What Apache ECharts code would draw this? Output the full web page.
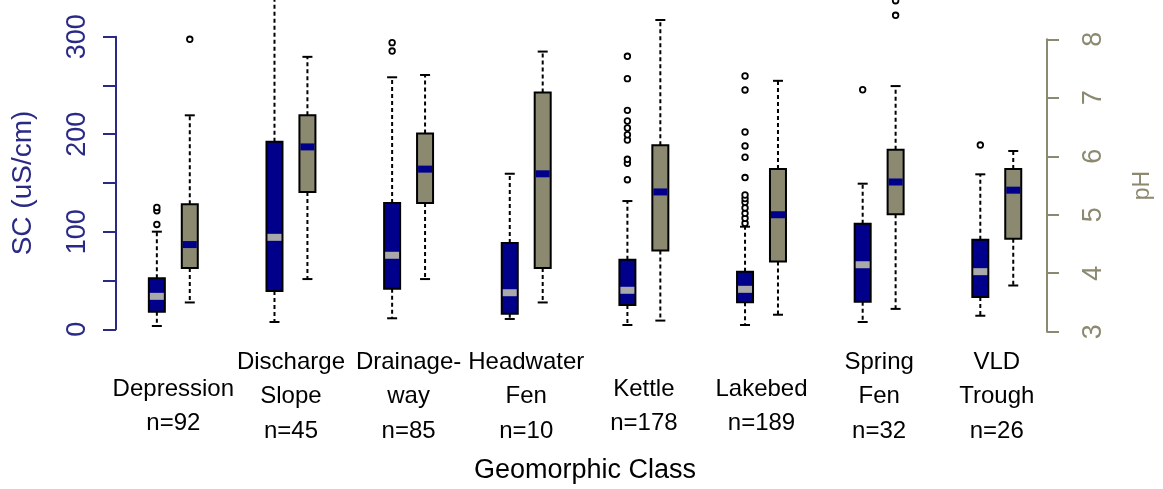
<!DOCTYPE html>
<html>
<head>
<meta charset="utf-8">
<script src="https://cdn.jsdelivr.net/npm/echarts@6/dist/echarts.min.js"></script>
<style>
html,body{margin:0;padding:0;background:#fff;}
#chart{width:1163px;height:489px;}
</style>
</head>
<body>
<div id="chart"></div>
<script>
// ---- data ----
const classNames = ['Depression', 'Discharge\nSlope', 'Drainage-\nway', 'Headwater\nFen', 'Kettle', 'Lakebed', 'Spring\nFen', 'VLD\nTrough'];
const sampleCounts = [92, 45, 85, 10, 178, 189, 32, 26];
// [min whisker, Q1, median, Q3, max whisker]
const scStats = [
  [3.4, 18.0, 33.8, 52.3, 100.1],
  [7.5, 39.3, 94.3, 192.4, 380],
  [11.3, 41.6, 75.9, 129.5, 258.4],
  [10.6, 16.0, 37.5, 88.5, 159.5],
  [4.4, 24.9, 40.0, 71.4, 131.5],
  [4.4, 27.7, 41.0, 59.1, 105.2],
  [7.5, 28.3, 66.2, 108.3, 149.3],
  [13.9, 33.1, 59.1, 91.9, 158.9]
];
const phStats = [
  [3.50, 4.09, 4.49, 5.18, 6.70],
  [3.90, 5.39, 6.16, 6.70, 7.70],
  [3.90, 5.20, 5.78, 6.39, 7.39],
  [3.50, 4.09, 5.70, 7.09, 7.79],
  [3.19, 4.39, 5.39, 6.19, 8.33],
  [3.29, 4.20, 5.00, 5.78, 7.29],
  [3.39, 5.01, 5.56, 6.11, 7.20],
  [3.79, 4.59, 5.42, 5.78, 6.09]
];
const scOutliers = [
  [107.5, 121.5, 125],
  [],
  [285.3, 293.9],
  [],
  [153.4, 170.2, 174.3, 194.1, 199.5, 206.4, 213.6, 224.5, 257.0, 279.9],
  [108.7, 113.8, 118.9, 124.4, 130.2, 134, 137.7, 155.6, 176.4, 188.0, 202.3, 245.4, 259.7],
  [245.6],
  [188.9]
];
const phOutliers = [
  [8.0], [], [], [], [], [], [8.41, 8.66], []
];
const scTicks = [0, 50, 100, 150, 200, 250, 300];
const phTicks = [3, 4, 5, 6, 7, 8];

// ---- styles ----
const SC_COLOR = '#00008B';
const PH_COLOR = '#8B8970';
const SC_AXIS = '#2a2a86';
const PH_AXIS = '#8B8970';
const FONT = '"Liberation Sans", Arial, sans-serif';

const categories = classNames.map((n, i) => n + '\nn=' + sampleCounts[i]);

function boxData(stats) { return stats.map((s, i) => [i].concat(s)); }
function outlierData(out) {
  const r = [];
  out.forEach((arr, i) => arr.forEach(v => r.push([i, v])));
  return r;
}

function makeBoxRender(side, fill, medColor) {
  return function (params, api) {
    const idx = api.value(0);
    const band = api.size([1, 0])[0];
    const off = side * band * 0.14;
    const bw = band * 0.136;
    const capW = band * 0.085;
    const x = api.coord([idx, 0])[0] + off;
    const yMin = api.coord([idx, api.value(1)])[1];
    const yQ1 = api.coord([idx, api.value(2)])[1];
    const yMed = api.coord([idx, api.value(3)])[1];
    const yQ3 = api.coord([idx, api.value(4)])[1];
    const yMax = api.coord([idx, api.value(5)])[1];
    const dash = { stroke: '#000', lineWidth: 2, lineDash: [4, 3] };
    const cap = { stroke: '#000', lineWidth: 2 };
    return {
      type: 'group',
      children: [
        { type: 'line', shape: { x1: x, y1: yQ3, x2: x, y2: yMax }, style: dash },
        { type: 'line', shape: { x1: x, y1: yQ1, x2: x, y2: yMin }, style: dash },
        { type: 'line', shape: { x1: x - capW / 2, y1: yMax, x2: x + capW / 2, y2: yMax }, style: cap },
        { type: 'line', shape: { x1: x - capW / 2, y1: yMin, x2: x + capW / 2, y2: yMin }, style: cap },
        { type: 'rect', shape: { x: x - bw / 2, y: yQ3, width: bw, height: yQ1 - yQ3 }, style: { fill: fill, stroke: '#000', lineWidth: 2 } },
        { type: 'rect', shape: { x: x - bw / 2 + 1, y: yMed - 3.5, width: bw - 2, height: 7 }, style: { fill: medColor } }
      ]
    };
  };
}
function makeOutRender(side) {
  return function (params, api) {
    const idx = api.value(0);
    const band = api.size([1, 0])[0];
    const off = side * band * 0.14;
    const p = api.coord([idx, api.value(1)]);
    return { type: 'circle', shape: { cx: p[0] + off, cy: p[1], r: 2.8 }, style: { fill: '#fff', stroke: '#000', lineWidth: 1.8 } };
  };
}

const chart = echarts.init(document.getElementById('chart'), null, { renderer: 'canvas' });

const option = {
  animation: false,
  backgroundColor: '#ffffff',
  grid: [
    { left: 114.5, right: 107.4, top: 0, bottom: 149, outerBoundsMode: 'none' },
    { left: 116, width: 400, top: 36.7, bottom: 159.7, outerBoundsMode: 'none' },
    { right: 116, width: 400, top: 39.3, bottom: 157.3, outerBoundsMode: 'none' }
  ],
  xAxis: [
    {
      type: 'category', gridIndex: 0, data: categories, boundaryGap: true,
      axisLine: { show: false }, axisTick: { show: false }, splitLine: { show: false },
      axisLabel: {
        interval: 0, margin: 5,
        formatter: function (v) {
          const lines = v.split('\n');
          const body = lines.map(l => '{t|' + l + '}').join('\n');
          return lines.length === 2 ? '{sp|}\n' + body : body;
        },
        rich: {
          t: { fontFamily: FONT, fontSize: 24, lineHeight: 34.5, color: '#000' },
          sp: { fontSize: 1, lineHeight: 27 }
        }
      },
      name: 'Geomorphic Class', nameLocation: 'middle', nameGap: 117,
      nameTextStyle: { fontFamily: FONT, fontSize: 27, color: '#000' }
    },
    { type: 'value', gridIndex: 1, show: false, min: 0, max: 1 },
    { type: 'value', gridIndex: 2, show: false, min: 0, max: 1 }
  ],
  yAxis: [
    { type: 'value', gridIndex: 0, min: -10.97, max: 337.64, show: false },
    { type: 'value', gridIndex: 0, min: 2.858, max: 8.672, show: false },
    {
      type: 'value', gridIndex: 1, position: 'left', min: scTicks[0], max: scTicks[scTicks.length - 1], interval: 50,
      axisLine: { show: true, onZero: false, lineStyle: { color: SC_AXIS, width: 2 } },
      axisTick: { show: true, length: 13, lineStyle: { color: SC_AXIS, width: 2 } },
      splitLine: { show: false },
      axisLabel: {
        rotate: 90, margin: 25, color: SC_AXIS, fontFamily: FONT, fontSize: 27,
        formatter: v => (v % 100 === 0 ? String(v) : '')
      },
      name: 'SC (uS/cm)', nameLocation: 'middle', nameRotate: 90, nameGap: 79,
      nameTextStyle: { color: SC_AXIS, fontFamily: FONT, fontSize: 28 }
    },
    {
      type: 'value', gridIndex: 2, position: 'right', min: phTicks[0], max: phTicks[phTicks.length - 1], interval: 1,
      axisLine: { show: true, onZero: false, lineStyle: { color: PH_AXIS, width: 2 } },
      axisTick: { show: true, length: 12, lineStyle: { color: PH_AXIS, width: 2 } },
      splitLine: { show: false },
      axisLabel: { rotate: 90, margin: 33, color: PH_AXIS, fontFamily: FONT, fontSize: 27 },
      name: 'pH', nameLocation: 'middle', nameRotate: 90, nameGap: 84,
      nameTextStyle: { color: PH_AXIS, fontFamily: FONT, fontSize: 23 }
    }
  ],
  series: [
    { type: 'custom', name: 'SC', xAxisIndex: 0, yAxisIndex: 0, renderItem: makeBoxRender(-1, SC_COLOR, '#A9A9A9'), data: boxData(scStats), encode: { x: 0, y: [1, 2, 3, 4, 5] } },
    { type: 'custom', name: 'pH', xAxisIndex: 0, yAxisIndex: 1, renderItem: makeBoxRender(1, PH_COLOR, SC_COLOR), data: boxData(phStats), encode: { x: 0, y: [1, 2, 3, 4, 5] } },
    { type: 'custom', name: 'SC outliers', xAxisIndex: 0, yAxisIndex: 0, renderItem: makeOutRender(-1), data: outlierData(scOutliers), encode: { x: 0, y: 1 } },
    { type: 'custom', name: 'pH outliers', xAxisIndex: 0, yAxisIndex: 1, renderItem: makeOutRender(1), data: outlierData(phOutliers), encode: { x: 0, y: 1 } }
  ]
};
chart.setOption(option);
</script>
</body>
</html>
